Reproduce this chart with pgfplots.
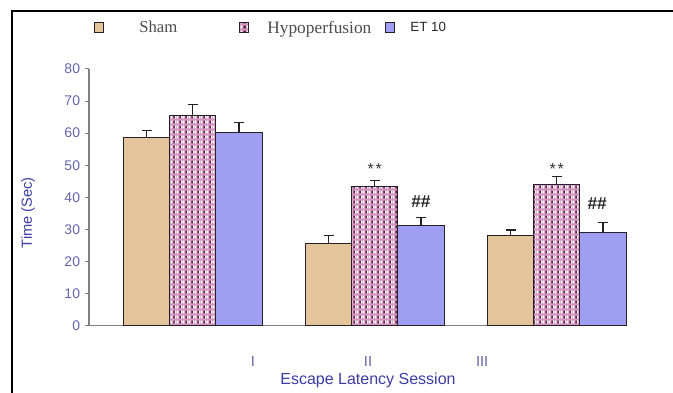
\documentclass[border=0pt]{standalone}
\usepackage{fontspec}
\setmainfont{Liberation Sans}
\newfontfamily\seriffont{Liberation Serif}
\usepackage{pgfplots}
\usepackage{pgfplotstable}
\pgfplotsset{compat=1.18}
\usetikzlibrary{patterns}

\definecolor{shamfill}{RGB}{228,197,155}
\definecolor{hypofill}{RGB}{210,150,192}
\definecolor{hypodark}{RGB}{105,35,75}
\definecolor{etfill}{RGB}{158,158,242}
\definecolor{baredge}{RGB}{40,30,40}
\definecolor{axisgray}{RGB}{128,128,128}
\definecolor{labelblue}{RGB}{60,60,165}
\definecolor{tickblue}{RGB}{100,100,170}
\definecolor{legendgray}{RGB}{75,75,75}

\pgfdeclarepatterninherentlycolored{hypodots}{\pgfpointorigin}{\pgfpoint{4.4pt}{3.4pt}}{\pgfpoint{4.4pt}{3.4pt}}{%
  \pgfsetfillcolor{white}%
  \pgfpathrectangle{\pgfpoint{0.4pt}{0.6pt}}{\pgfpoint{1.4pt}{2.1pt}}%
  \pgfusepath{fill}%
  \pgfsetfillcolor{hypodark}%
  \pgfpathrectangle{\pgfpoint{2.6pt}{0.6pt}}{\pgfpoint{1.2pt}{2.1pt}}%
  \pgfusepath{fill}%
}

\pgfplotstableread{
x val err
0 58.6 2.1
1 25.7 2.5
2 28.0 1.8
}\shamdata
\pgfplotstableread{
x val err
0 65.6 3.2
1 43.5 1.7
2 44.1 2.3
}\hypodata
\pgfplotstableread{
x val err
0 60.2 3.2
1 31.2 2.6
2 29.1 3.0
}\etdata

\begin{document}
\begin{tikzpicture}
\begin{axis}[
  scale only axis, width=403.5pt, height=192.6pt,
  at={(66.75pt,49.7pt)}, anchor=south west,
  xmin=-0.570, xmax=2.386, ymin=0, ymax=80,
  ybar, bar width=0.254,
  axis x line*=bottom, axis y line*=left,
  axis line style={axisgray, line width=0.9pt},
  ytick={0,10,...,80}, tick align=outside, major tick length=3pt,
  ytick style={axisgray, line width=0.8pt},
  xtick={0.331,0.963,1.59}, xticklabels={I,II,III},
  xtick style={draw=none},
  xticklabel style={anchor=center, yshift=-23.5pt, font=\fontsize{11}{11}\selectfont, text=tickblue},
  yticklabel style={anchor=east, inner sep=0pt, xshift=-3.5pt, font=\fontsize{10.5}{11}\selectfont, text=tickblue},
  /pgf/number format/assume math mode=true,
  xlabel={Escape Latency Session}, ylabel={Time (Sec)},
  xlabel style={at={(axis description cs:0.5186,-0.2114)}, anchor=center, font=\fontsize{12}{12}\selectfont, text=labelblue},
  ylabel style={at={(axis description cs:-0.1134,0.44)}, anchor=center, font=\fontsize{11}{11}\selectfont, text=labelblue},
  legend columns=3,
  legend cell align=left,
  legend image code/.code={\draw[#1] (0pt,-3.75pt) rectangle (6.75pt,3.75pt);},
  legend style={draw=none, fill=none, inner sep=0pt, nodes={inner sep=0pt},
    at={(axis description cs:0.0093,1.1885)}, anchor=north west,
    /tikz/every odd column/.style={column sep=0pt},
    /tikz/every even column/.style={column sep=0pt}},
  error bars/y dir=plus, error bars/y explicit,
  error bars/error bar style={baredge, line width=0.9pt},
  error bars/error mark options={rotate=90, baredge, mark size=3.75pt, line width=0.9pt},
]
\addplot[bar shift=-0.254, fill=shamfill, draw=baredge, line width=0.8pt]
  table[x=x, y=val, y error=err]{\shamdata};
\addlegendentry{\hspace{26.25pt}\makebox[75pt][l]{\seriffont\fontsize{12.5}{13}\selectfont\textcolor{legendgray}{Sham}}}
\addplot[bar shift=0, fill=hypofill, postaction={pattern=hypodots}, draw=baredge, line width=0.8pt]
  table[x=x, y=val, y error=err]{\hypodata};
\addlegendentry{\hspace{13.5pt}\makebox[88.5pt][l]{\seriffont\fontsize{13}{13}\selectfont\textcolor{legendgray}{Hypoperfusion}}}
\addplot[bar shift=0.254, fill=etfill, draw=baredge, line width=0.8pt]
  table[x=x, y=val, y error=err]{\etdata};
\addlegendentry{\hspace{11.25pt}{\fontsize{10}{11}\selectfont\textcolor{black!85}{ET 10}}}

\node[font=\fontsize{12}{12}\selectfont, text=black!80] at (axis cs:1,48.8) {*\hspace{1.5pt}*};
\node[font=\fontsize{12}{12}\selectfont, text=black!80] at (axis cs:2,48.8) {*\hspace{1.5pt}*};
\node[font=\fontsize{13}{13}\selectfont\bfseries, text=black!85] at (axis cs:1.254,38.6) {\#\#};
\node[font=\fontsize{13}{13}\selectfont\bfseries, text=black!85] at (axis cs:2.222,38.2) {\#\#};
\end{axis}
\draw[line width=1.6pt, black] (9pt,-2pt) -- (9pt,285.75pt) -- (510pt,285.75pt);
\pgfresetboundingbox
\useasboundingbox (0,0) rectangle (504.75pt,294pt);
\end{tikzpicture}
\end{document}
